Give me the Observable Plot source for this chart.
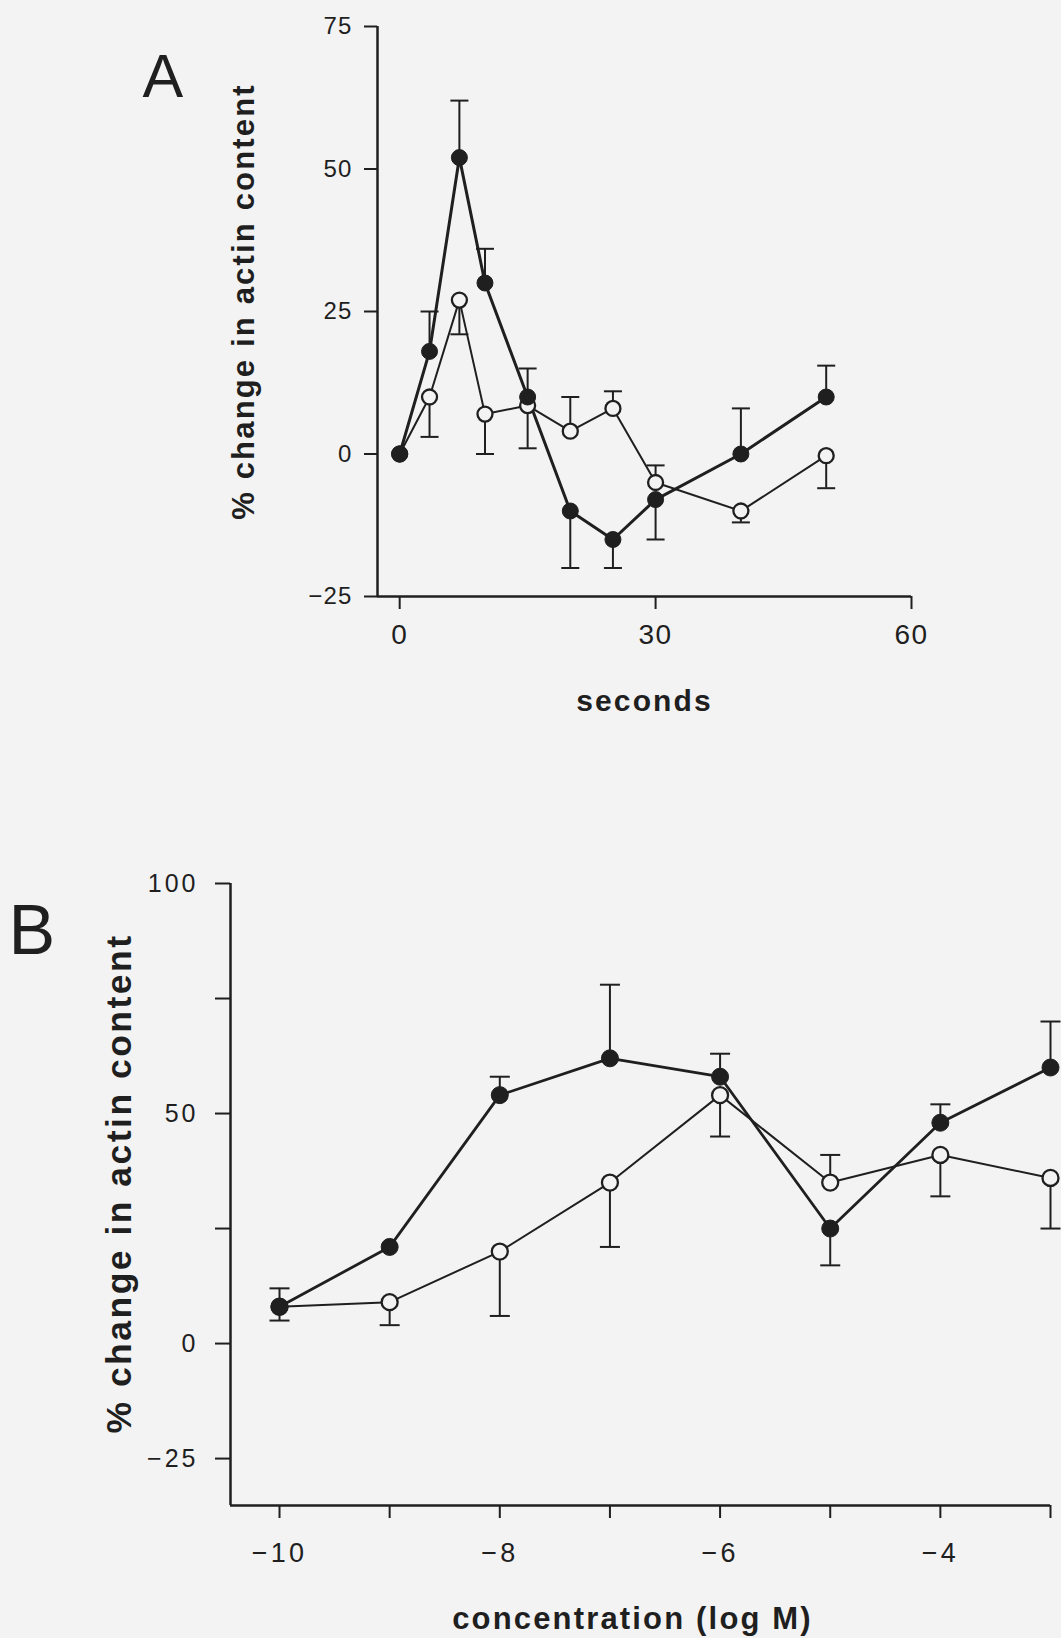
<!DOCTYPE html>
<html>
<head>
<meta charset="utf-8">
<script src="https://cdn.jsdelivr.net/npm/d3@7"></script>
<script src="https://cdn.jsdelivr.net/npm/@observablehq/plot@0.6"></script>
<style>
  html, body { margin: 0; padding: 0; background: #f3f3f4; }
  #chart { width: 1061px; height: 1638px; }
  #chart svg { display: block; }
</style>
</head>
<body>
<div id="chart"></div>
<script>
// ---------- Panel A: time course ----------
const secondsA   = [0, 3.5, 7, 10, 15, 20, 25, 30, 40, 50];
const filledA    = [0, 18, 52, 30, 10, -10, -15, -8, 0, 10];
const filledErrA = [null, 25, 62, 36, 15, -20, -20, -15, 8, 15.5];
const openA      = [0, 10, 27, 7, 8.5, 4, 8, -5, -10, -0.3];
const openErrA   = [null, 3, 21, 0, 1, 10, 11, -2, -12, -6];
const aXTicks = [0, 30, 60];
const aYTicks = [75, 50, 25, 0, -25];
const aXDomain = [-2.6, 60];
const aYDomain = [-25, 75];

// ---------- Panel B: concentration response ----------
const logM       = [-10, -9, -8, -7, -6, -5, -4, -3];
const filledB    = [8, 21, 54, 62, 58, 25, 48, 60];
const filledErrB = [12, null, 58, 78, 63, 17, 52, 70];
const openB      = [8, 9, 20, 35, 54, 35, 41, 36];
const openErrB   = [5, 4, 6, 21, 45, 41, 32, 25];
const bXTicks = [-10, -9, -8, -7, -6, -5, -4, -3];
const bXTickLabels = [-10, -8, -6, -4];
const bYTicks = [100, 75, 50, 25, 0, -25];
const bYTickLabels = [100, 50, 0, -25];
const bXDomain = [-10.445, -3];
const bYDomain = [-35.2, 100];

const yTitle = "% change in actin content";
const aXTitle = "seconds";
const bXTitle = "concentration (log M)";

const ink = "#1f1f1f";
const bg = "#f3f3f4";
const font = "'Liberation Sans', Arial, Helvetica, sans-serif";

const toRows = (xs, ys, errs) => xs.map((x, i) => ({x, y: ys[i], err: errs[i]}));
const fmt = d => String(d).replace("-", "\u2212");
const capSymbol = { draw(ctx, size) { const r = Math.sqrt(size / Math.PI); ctx.moveTo(-r, 0); ctx.lineTo(r, 0); } };
const baseStyle = {background: "transparent", fontFamily: font, color: ink, overflow: "visible"};

const rowsAF = toRows(secondsA, filledA, filledErrA);
const rowsAO = toRows(secondsA, openA, openErrA);
const errA = [...rowsAO, ...rowsAF].filter(d => d.err != null);

const plotA = Plot.plot({
  width: 1061, height: 800,
  marginLeft: 377, marginRight: 150, marginTop: 26, marginBottom: 204,
  style: baseStyle,
  x: {type: "linear", domain: aXDomain},
  y: {type: "linear", domain: aYDomain},
  marks: [
    Plot.axisY({ticks: aYTicks, tickSize: 13, tickPadding: 12, fontSize: 24, stroke: ink, fill: ink, strokeWidth: 2, tickFormat: fmt, label: null}),
    Plot.axisX({ticks: aXTicks, tickSize: 13, tickPadding: 15, fontSize: 28, stroke: ink, fill: ink, strokeWidth: 2, tickFormat: fmt, label: null}),
    Plot.ruleX([aXDomain[0]], {stroke: ink, strokeWidth: 2.5}),
    Plot.ruleY([aYDomain[0]], {stroke: ink, strokeWidth: 2.5}),
    Plot.ruleX(errA, {x: "x", y1: "y", y2: "err", stroke: ink, strokeWidth: 2}),
    Plot.dot(errA, {x: "x", y: "err", symbol: capSymbol, r: 9, fill: "none", stroke: ink, strokeWidth: 2}),
    Plot.line(rowsAO, {x: "x", y: "y", stroke: ink, strokeWidth: 2}),
    Plot.line(rowsAF, {x: "x", y: "y", stroke: ink, strokeWidth: 3}),
    Plot.dot(rowsAO, {x: "x", y: "y", r: 7.5, fill: bg, stroke: ink, strokeWidth: 2.3}),
    Plot.dot(rowsAF, {x: "x", y: "y", r: 8, fill: ink, stroke: ink, strokeWidth: 1}),
    Plot.text(["A"], {text: d => d, frameAnchor: "top-left", textAnchor: "start", lineAnchor: "bottom", dx: -235, dy: 70, fontSize: 61, fill: ink}),
    Plot.text([yTitle], {text: d => d, frameAnchor: "left", textAnchor: "middle", lineAnchor: "middle", rotate: -90, dx: -133, dy: -10, fontSize: 31, fontWeight: "bold", fill: ink}),
    Plot.text([aXTitle], {text: d => d, frameAnchor: "bottom", textAnchor: "middle", lineAnchor: "bottom", dy: 114, fontSize: 30, fontWeight: "bold", fill: ink})
  ]
});

const rowsBF = toRows(logM, filledB, filledErrB);
const rowsBO = toRows(logM, openB, openErrB);
const errB = [...rowsBO, ...rowsBF].filter(d => d.err != null);

const plotB = Plot.plot({
  width: 1061, height: 838,
  marginLeft: 230, marginRight: 11, marginTop: 83, marginBottom: 133,
  style: baseStyle,
  x: {type: "linear", domain: bXDomain},
  y: {type: "linear", domain: bYDomain},
  marks: [
    Plot.axisY({ticks: bYTicks, tickSize: 15, tickPadding: 17, fontSize: 25, stroke: ink, fill: ink, strokeWidth: 2,
      tickFormat: d => bYTickLabels.includes(d) ? fmt(d) : "", label: null}),
    Plot.axisX({ticks: bXTicks, tickSize: 13, tickPadding: 24, fontSize: 27, stroke: ink, fill: ink, strokeWidth: 2,
      tickFormat: d => bXTickLabels.includes(d) ? fmt(d) : "", label: null}),
    Plot.ruleX([bXDomain[0]], {stroke: ink, strokeWidth: 2.5}),
    Plot.ruleY([bYDomain[0]], {stroke: ink, strokeWidth: 2.5}),
    Plot.ruleX(errB, {x: "x", y1: "y", y2: "err", stroke: ink, strokeWidth: 2}),
    Plot.dot(errB, {x: "x", y: "err", symbol: capSymbol, r: 10, fill: "none", stroke: ink, strokeWidth: 2}),
    Plot.line(rowsBO, {x: "x", y: "y", stroke: ink, strokeWidth: 2}),
    Plot.line(rowsBF, {x: "x", y: "y", stroke: ink, strokeWidth: 2.8}),
    Plot.dot(rowsBO, {x: "x", y: "y", r: 8, fill: bg, stroke: ink, strokeWidth: 2.3}),
    Plot.dot(rowsBF, {x: "x", y: "y", r: 8.5, fill: ink, stroke: ink, strokeWidth: 1}),
    Plot.text(["B"], {text: d => d, frameAnchor: "top-left", textAnchor: "start", lineAnchor: "bottom", dx: -222, dy: 70, fontSize: 70, fill: ink}),
    Plot.text([yTitle], {text: d => d, frameAnchor: "left", textAnchor: "middle", lineAnchor: "middle", rotate: -90, dx: -111, dy: -11, fontSize: 35.5, fontWeight: "bold", fill: ink}),
    Plot.text([bXTitle], {text: d => d, frameAnchor: "bottom", textAnchor: "middle", lineAnchor: "bottom", dx: -8, dy: 123, fontSize: 31, fontWeight: "bold", fill: ink})
  ]
});

// letter spacing to match the wide typewriter-like spacing of the original figure
function space(svg, tickSpacing) {
  d3.select(svg).selectAll('g[aria-label$="tick label"]').style("letter-spacing", tickSpacing);
  d3.select(svg).selectAll('g[aria-label="text"]').style("letter-spacing", "0.07em");
}
space(plotA, "0.05em");
space(plotB, "0.12em");

const chart = document.getElementById("chart");
chart.appendChild(plotA);
chart.appendChild(plotB);
</script>
</body>
</html>
